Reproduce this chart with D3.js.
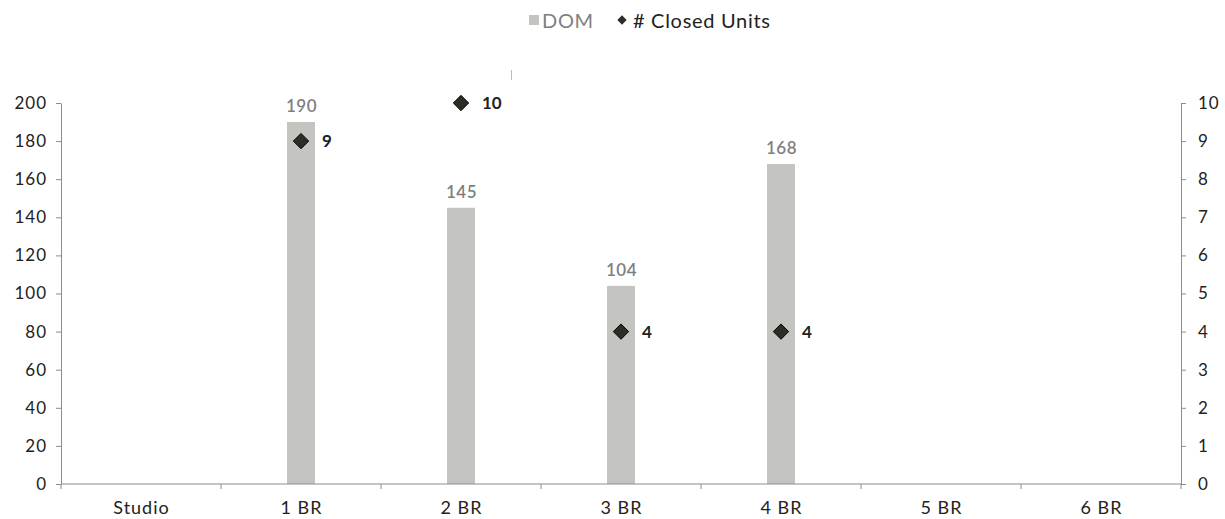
<!DOCTYPE html>
<html>
<head>
<meta charset="utf-8">
<script src="https://cdn.jsdelivr.net/npm/d3@7"></script>
<style>
  body { margin: 0; background: #fff; }
  svg { display: block; font-family: "Lato", "Open Sans", sans-serif; }
</style>
</head>
<body>
<svg id="chart" width="1225" height="519"></svg>
<script>
// Unit types along the bottom
const categories = ["Studio", "1 BR", "2 BR", "3 BR", "4 BR", "5 BR", "6 BR"];
// Days on market per unit type (null = no data)
const domValues = [null, 190, 145, 104, 168, null, null];
// Number of closed units per unit type (null = no data)
const closedUnits = [null, 9, 10, 4, 4, null, null];
// Axis tick values
const leftTicks = [0, 20, 40, 60, 80, 100, 120, 140, 160, 180, 200];
const rightTicks = [0, 1, 2, 3, 4, 5, 6, 7, 8, 9, 10];

const svg = d3.select("#chart");
const margin = { left: 61, right: 44, top: 103, bottom: 35 };
const W = 1225, H = 519;
const x0 = margin.left, x1 = W - margin.right;
const y0 = H - margin.bottom, y1 = margin.top;

const x = d3.scaleBand().domain(categories).range([x0, x1]).paddingInner(0).paddingOuter(0);
const yL = d3.scaleLinear().domain([0, 200]).range([y0, y1]);
const yR = d3.scaleLinear().domain([0, 10]).range([y0, y1]);

const axisColor = "#8c8c8c";
const textColor = "#222";
const barColor = "#c4c5c0";
const barLabelColor = "#7f7f7f";
const markerColor = "#2d2d28";

// Bars (DOM)
const barW = 28;
const barData = categories.map((c, i) => ({ c, v: domValues[i] })).filter(d => d.v != null);
svg.append("g").selectAll("rect")
  .data(barData)
  .join("rect")
  .attr("x", d => x(d.c) + x.bandwidth() / 2 - barW / 2)
  .attr("y", d => yL(d.v))
  .attr("width", barW)
  .attr("height", d => yL(0) - yL(d.v))
  .attr("fill", barColor);

// Bar value labels
svg.append("g").selectAll("text")
  .data(barData)
  .join("text")
  .attr("x", d => x(d.c) + x.bandwidth() / 2 + 0.5)
  .attr("y", d => yL(d.v) - 10)
  .attr("text-anchor", "middle")
  .attr("fill", barLabelColor)
  .attr("font-size", 17)
  .attr("font-weight", 600)
  .attr("letter-spacing", 0.5)
  .text(d => d.v);

// Left axis
const leftAxis = d3.axisLeft(yL).tickValues(leftTicks).tickSize(5).tickSizeOuter(0).tickPadding(10);
const gL = svg.append("g").attr("transform", `translate(${x0},0)`).call(leftAxis);
// Right axis
const rightAxis = d3.axisRight(yR).tickValues(rightTicks).tickSize(5).tickSizeOuter(0).tickPadding(12);
const gR = svg.append("g").attr("transform", `translate(${x1},0)`).call(rightAxis);
// Bottom axis with ticks at category boundaries
const gB = svg.append("g").attr("transform", `translate(0,${y0})`);
gB.append("line").attr("x1", x0).attr("x2", x1).attr("y1", 0).attr("y2", 0).attr("stroke", axisColor);
const bounds = categories.map(c => x(c)).concat([x1]);
gB.selectAll("line.tick").data(bounds).join("line")
  .attr("class", "tick")
  .attr("x1", d => d).attr("x2", d => d).attr("y1", 0).attr("y2", 5)
  .attr("stroke", axisColor);
gB.selectAll("text").data(categories).join("text")
  .attr("x", d => x(d) + x.bandwidth() / 2 + 0.5)
  .attr("y", 30)
  .attr("text-anchor", "middle")
  .attr("fill", textColor)
  .attr("font-size", 18)
  .attr("letter-spacing", 1)
  .text(d => d);

[gL, gR].forEach(g => {
  g.select(".domain").attr("stroke", axisColor);
  g.selectAll(".tick line").attr("stroke", axisColor);
  g.selectAll(".tick text").attr("fill", textColor).attr("font-size", 17)
    .attr("letter-spacing", 1).attr("font-family", "Lato, sans-serif");
});
gL.selectAll(".tick text").attr("dx", 1);

// Markers (# Closed Units)
const diamond = d3.symbol().type(d3.symbolDiamond2).size(150);
const pts = categories.map((c, i) => ({ c, v: closedUnits[i] })).filter(d => d.v != null);
svg.append("g").selectAll("path")
  .data(pts)
  .join("path")
  .attr("transform", d => `translate(${x(d.c) + x.bandwidth() / 2},${yR(d.v)})`)
  .attr("d", diamond)
  .attr("fill", markerColor)
  .attr("stroke", "#000")
  .attr("stroke-width", 1);
svg.append("g").selectAll("text")
  .data(pts)
  .join("text")
  .attr("x", d => x(d.c) + x.bandwidth() / 2 + 21)
  .attr("y", d => yR(d.v) + 6)
  .attr("fill", textColor)
  .attr("font-size", 17)
  .attr("font-weight", 700)
  .text(d => d.v);

// Small marker line above plot
svg.append("line").attr("x1", 511.5).attr("x2", 511.5).attr("y1", 70).attr("y2", 80)
  .attr("stroke", "#bbb").attr("stroke-width", 1);

// Legend
const lg = svg.append("g").attr("transform", "translate(0,28)");
lg.append("rect").attr("x", 529).attr("y", -13).attr("width", 10).attr("height", 10).attr("fill", barColor);
lg.append("text").attr("x", 542).attr("y", 0).attr("fill", "#808080").attr("font-size", 20)
  .attr("letter-spacing", 0.7).text("DOM");
lg.append("path").attr("transform", "translate(622,-8)").attr("d", d3.symbol().type(d3.symbolDiamond2).size(55)).attr("fill", markerColor);
lg.append("text").attr("x", 633).attr("y", 0).attr("fill", textColor).attr("font-size", 20)
  .attr("letter-spacing", 0.7).text("# Closed Units");
</script>
</body>
</html>
